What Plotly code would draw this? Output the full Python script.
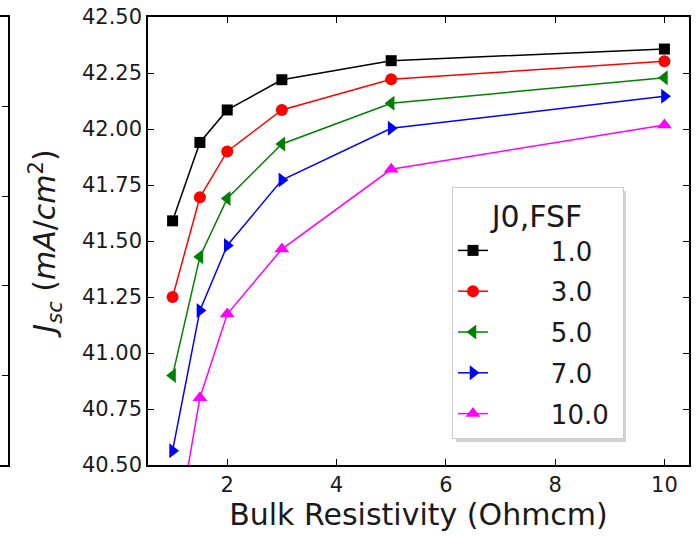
import plotly.graph_objects as go

x_res = [1, 1.5, 2, 3, 5, 10]
series_names = ["1.0", "3.0", "5.0", "7.0", "10.0"]
jsc_1 = [41.59, 41.94, 42.085, 42.22, 42.305, 42.357]
jsc_3 = [41.25, 41.695, 41.90, 42.085, 42.222, 42.302]
jsc_5 = [40.90, 41.43, 41.69, 41.933, 42.115, 42.229]
jsc_7 = [40.564, 41.19, 41.48, 41.772, 42.003, 42.146]
jsc_10 = [40.09, 40.80, 41.174, 41.464, 41.82, 42.018]
y_ticks = [40.50, 40.75, 41.00, 41.25, 41.50, 41.75, 42.00, 42.25, 42.50]
x_ticks = [2, 4, 6, 8, 10]

colors = ["#000000", "#ff0000", "#008000", "#0000ff", "#ff00ff"]
symbols = ["square", "circle", "triangle-left", "triangle-right", "triangle-up"]
sizes = [11, 12, 13, 13, 13]
data = [jsc_1, jsc_3, jsc_5, jsc_7, jsc_10]

PAD_L = "\u00a0" * 7
PAD_R = "\u00a0" * 1

fig = go.Figure()
for name, ys, c, s, sz in zip(series_names, data, colors, symbols, sizes):
    fig.add_trace(go.Scatter(
        x=x_res, y=ys, name=PAD_L + name + PAD_R, mode="lines+markers",
        legendgroup=name,
        line=dict(color=c, width=1.5),
        marker=dict(color=c, symbol=s, size=sz, line=dict(width=0)),
        xaxis="x", yaxis="y",
    ))

# fragment of neighbouring panel at the left edge
fig.add_trace(go.Scatter(x=[None], y=[None], xaxis="x2", yaxis="y2",
                         showlegend=False, hoverinfo="skip"))

font_color = "#1a1a1a"
axis_common = dict(showline=True, linecolor="#000", linewidth=1.5,
                   ticks="inside", ticklen=6, tickwidth=1.2, tickcolor="#000",
                   mirror="allticks", showgrid=False, zeroline=False,
                   automargin=False)

PW, PH = 689.0, 448.0  # plotting area (paper) size in px
def px_x(px):
    return px / PW
def px_y(py):
    return 1 - (py - 17) / PH

fig.update_layout(
    width=697, height=536,
    margin=dict(l=0, r=8, t=17, b=71, autoexpand=False),
    plot_bgcolor="white", paper_bgcolor="white",
    font=dict(family="DejaVu Sans", color=font_color),
    xaxis=dict(domain=[148/689, 1], range=[0.55, 10.45], tickvals=x_ticks,
               tickfont=dict(size=21),
               title=dict(text="Bulk Resistivity (Ohmcm)", font=dict(size=30), standoff=4),
               **axis_common),
    yaxis=dict(domain=[0, 1], range=[40.5, 42.5], tickvals=y_ticks,
               tickformat=".2f", tickfont=dict(size=21),
               title=dict(text="<i>J</i><sub><i>sc</i></sub> (<i>mA</i>/<i>cm</i><sup>2</sup>)",
                          font=dict(size=30), standoff=17),
               anchor="x", **axis_common),
    xaxis2=dict(domain=[0, 8/689], range=[0, 1], showline=True, linecolor="#000",
                linewidth=1.5, mirror=True, showticklabels=False, ticks="",
                showgrid=False, zeroline=False, anchor="y2", automargin=False),
    yaxis2=dict(domain=[0, 1], range=[0, 5], tickvals=[1, 2, 3, 4], side="right",
                showline=True, linecolor="#000", linewidth=1.5, ticks="inside",
                ticklen=6, tickwidth=1.2, tickcolor="#000", showticklabels=False,
                showgrid=False, zeroline=False, anchor="x2", automargin=False),
    legend=dict(x=px_x(452), y=px_y(187), xanchor="left", yanchor="top",
                bgcolor="white", bordercolor="#cccccc", borderwidth=1,
                font=dict(size=26, color=font_color),
                title=dict(text="J0,FSF", font=dict(size=30), side="top center"),
                tracegroupgap=4),
    shapes=[dict(type="rect", xref="paper", yref="paper", layer="above",
                 x0=px_x(456), x1=px_x(626), y0=px_y(442), y1=px_y(191),
                 fillcolor="#a0a0a0", opacity=0.45, line=dict(width=0))],
    showlegend=True,
)

fig.write_html("out.html", post_script="document.body.style.margin='0';",
               config={"displayModeBar": False})
